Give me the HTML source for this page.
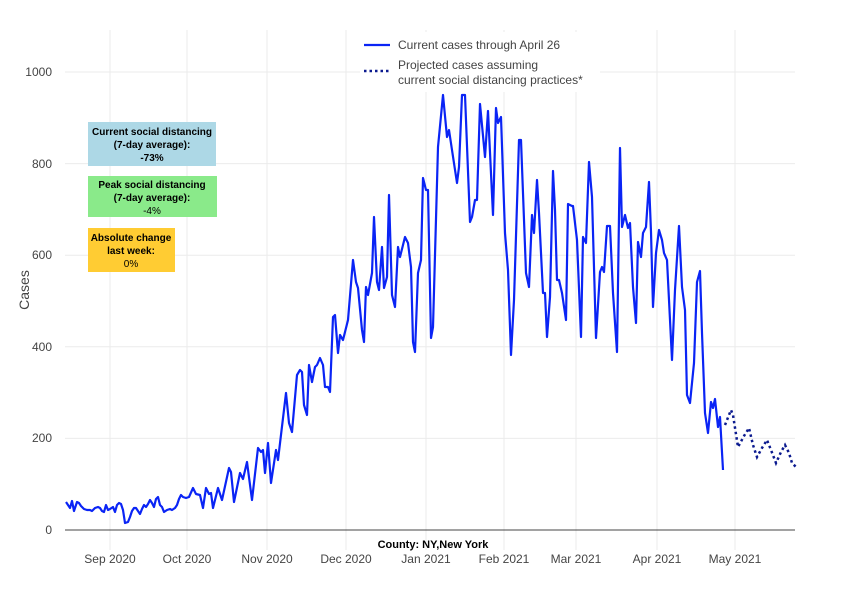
<!DOCTYPE html>
<html><head><meta charset="utf-8"><style>
body{margin:0;background:#fff;}
svg{display:block;font-family:"Liberation Sans",sans-serif;}
</style></head><body>
<svg width="848" height="604" viewBox="0 0 848 604">
<g stroke="#ebebeb" stroke-width="1">
<line x1="65" x2="795" y1="438.4" y2="438.4"/>
<line x1="65" x2="795" y1="346.8" y2="346.8"/>
<line x1="65" x2="795" y1="255.2" y2="255.2"/>
<line x1="65" x2="795" y1="163.6" y2="163.6"/>
<line x1="65" x2="795" y1="72" y2="72"/>
<line x1="110" x2="110" y1="30" y2="550"/>
<line x1="187" x2="187" y1="30" y2="550"/>
<line x1="267" x2="267" y1="30" y2="550"/>
<line x1="346" x2="346" y1="30" y2="550"/>
<line x1="426" x2="426" y1="30" y2="550"/>
<line x1="504" x2="504" y1="30" y2="550"/>
<line x1="576" x2="576" y1="30" y2="550"/>
<line x1="657" x2="657" y1="30" y2="550"/>
<line x1="735" x2="735" y1="30" y2="550"/>
</g>
<line x1="65" x2="795" y1="530" y2="530" stroke="#444" stroke-width="1"/>
<g font-size="12" fill="#444" text-anchor="end">
<text x="52" y="534">0</text><text x="52" y="442">200</text><text x="52" y="351">400</text>
<text x="52" y="259">600</text><text x="52" y="168">800</text><text x="52" y="76">1000</text>
</g>
<g font-size="12" fill="#444" text-anchor="middle">
<text x="110" y="563">Sep 2020</text><text x="187" y="563">Oct 2020</text><text x="267" y="563">Nov 2020</text>
<text x="346" y="563">Dec 2020</text><text x="426" y="563">Jan 2021</text><text x="504" y="563">Feb 2021</text>
<text x="576" y="563">Mar 2021</text><text x="657" y="563">Apr 2021</text><text x="735" y="563">May 2021</text>
</g>
<text x="433" y="548" font-size="11" font-weight="bold" text-anchor="middle" fill="#000">County: NY,New York</text>
<text transform="translate(29,290) rotate(-90)" font-size="14" fill="#444" text-anchor="middle">Cases</text>
<polyline fill="none" stroke="#0a24f5" stroke-width="2.2" stroke-linejoin="round" points="66,502 68,505 70,508 72,501 74,511 77,502 79,503 81,506 84,509 87,510 90,510 92,511 95,508 98,507 100,508 102,511 104,512 106,505 108,510 110,509 113,507 115,512 117,505 119,503 121,504 123,510 125,523 128,522 130,517 132,511 134,508 136,508 138,511 140,514 142,509 144,505 146,507 148,504 150,500 152,503 154,507 156,499 158,497 160,505 162,507 164,512 167,510 170,509 172,510 175,508 177,505 179,499 181,495 183,497 186,498 189,497 193,488 196,494 200,495 203,508 206,488 209,494 211,493 213,508 218,488 222,500 229,468 231,472 234,502 240,473 243,479 247,462 252,500 258,448 261,452 263,450 265,473 268,443 271,483 276,450 278,460 286,393 289,423 292,432 297,375 300,370 302,372 304,405 307,415 309,365 312,382 315,367 317,365 320,358 323,365 325,387 328,387 330,392 333,317 335,315 338,353 340,335 343,340 348,320 353,260 356,282 358,288 362,330 364,342 366,287 368,295 372,273 374,217 377,282 379,290 382,247 384,288 387,277 389,195 392,295 395,307 398,247 400,257 405,237 408,243 411,267 413,342 415,352 418,273 421,260 423,178 426,190 428,190 431,338 433,327 438,147 443,95 447,137 449,130 452,150 457,183 459,167 462,95 465,95 470,222 472,217 475,200 477,200 480,104 485,157 488,111 493,215 496,108 498,123 501,117 505,233 508,270 511,355 514,300 519,140 521,140 526,273 529,287 532,215 534,233 537,180 539,213 543,293 545,293 547,337 550,297 553,171 555,210 557,280 559,280 562,293 566,320 568,204 572,206 573,206 577,240 581,337 583,237 586,243 589,162 592,197 596,338 600,272 602,267 604,272 607,226 610,226 613,293 617,352 620,148 622,227 625,215 628,228 630,223 633,287 636,323 638,242 641,257 643,233 646,227 649,182 651,232 653,307 656,253 659,230 662,240 664,253 667,260 672,360 675,290 679,226 682,287 685,310 687,395 690,403 694,363 697,282 700,271 702,333 705,413 708,433 711,402 713,408 715,399 718,427 720,417 723,470"/>
<polyline fill="none" stroke="#0b1a8f" stroke-width="2.5" stroke-dasharray="2.5,3" points="725,425 727,420 731,410 733,415 738,447 744,436 749,428 753,445 757,457 762,448 767,440 771,450 776,463 781,452 785,445 789,453 792,463 796,467"/>
<rect x="360" y="32" width="240" height="60" fill="#fff"/>
<line x1="364" x2="390" y1="45" y2="45" stroke="#0a24f5" stroke-width="2.2"/>
<line x1="364" x2="390" y1="71" y2="71" stroke="#0b1a8f" stroke-width="2.5" stroke-dasharray="2.5,3"/>
<g font-size="12" fill="#444">
<text x="398" y="49">Current cases through April 26</text>
<text x="398" y="69">Projected cases assuming</text>
<text x="398" y="84">current social distancing practices*</text>
</g>
<rect x="88" y="122" width="128" height="44" fill="#add8e6"/>
<rect x="88" y="176" width="129" height="41" fill="#8aea8a"/>
<rect x="88" y="228" width="87" height="44" fill="#ffcc33"/>
<g font-size="10" fill="#000" text-anchor="middle">
<text x="152" y="135" font-weight="bold">Current social distancing</text>
<text x="152" y="148" font-weight="bold">(7-day average):</text>
<text x="152" y="161" font-weight="bold">-73%</text>
<text x="152" y="188" font-weight="bold">Peak social distancing</text>
<text x="152" y="201" font-weight="bold">(7-day average):</text>
<text x="152" y="214">-4%</text>
<text x="131" y="241" font-weight="bold">Absolute change</text>
<text x="131" y="254" font-weight="bold">last week:</text>
<text x="131" y="267">0%</text>
</g>
</svg>
</body></html>
